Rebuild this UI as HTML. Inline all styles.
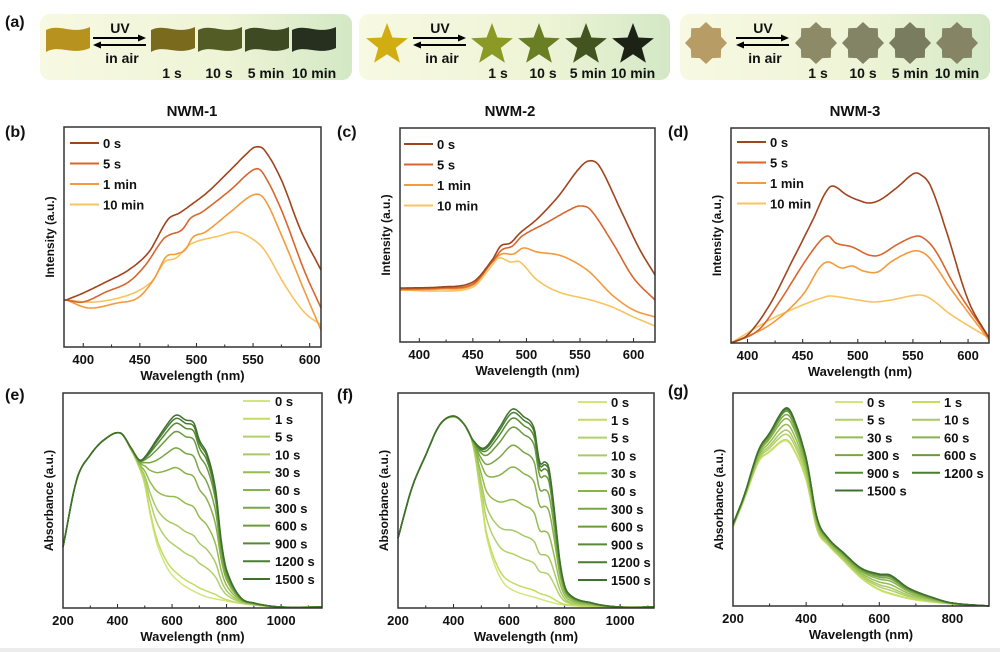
<!DOCTYPE html>
<html><head><meta charset="utf-8"><style>
html,body{margin:0;padding:0;background:#fff}
svg{display:block}
text{font-family:"Liberation Sans",Arial,sans-serif;font-weight:bold;fill:#111}
</style></head><body>
<svg id="s" width="1000" height="652" viewBox="0 0 1000 652" xmlns="http://www.w3.org/2000/svg">
<defs>
<linearGradient id="bg" x1="0" x2="1" y1="0" y2="0"><stop offset="0" stop-color="#f7f9e2"/><stop offset="0.6" stop-color="#eef4d6"/><stop offset="1" stop-color="#d3e8c6"/></linearGradient>
</defs>
<rect x="0" y="648" width="1000" height="4" fill="#ececec"/>
<g id="g"></g>
</svg>
<script>
const NS="http://www.w3.org/2000/svg",G=document.getElementById('g');
function el(t,a,txt){const e=document.createElementNS(NS,t);for(const k in a)e.setAttribute(k,a[k]);if(txt!=null)e.textContent=txt;G.appendChild(e);return e;}
function T(x,y,s,size,anchor,extra){const a={x:x,y:y,'font-size':size||13};if(anchor)a['text-anchor']=anchor;if(extra)Object.assign(a,extra);return el('text',a,s);}
[[40,352],[359,670],[680,990]].forEach(b=>el('rect',{x:b[0],y:14,width:b[1]-b[0],height:66,rx:10,fill:'url(#bg)'}));
T(5,27,'(a)',16);
function wave(x,y,w,h,c){const d=`M${x},${y+3} C${x+w*0.3},${y-4} ${x+w*0.6},${y+8} ${x+w},${y} L${x+w},${y+h-4} C${x+w*0.6},${y+h+4} ${x+w*0.3},${y+h-8} ${x},${y+h} Z`;el('path',{d:d,fill:c});}
function star(cx,cy,r,c){let p=[];for(let i=0;i<10;i++){const a=-Math.PI/2+i*Math.PI/5,rr=i%2?r*0.42:r;p.push((cx+rr*Math.cos(a)).toFixed(1)+','+(cy+rr*Math.sin(a)).toFixed(1));}el('polygon',{points:p.join(' '),fill:c});}
function oct(cx,cy,r,c){let p=[];for(let i=0;i<16;i++){const a=-Math.PI/2+i*Math.PI/8,rr=i%2?r*0.78:r;p.push((cx+rr*Math.cos(a)).toFixed(1)+','+(cy+rr*Math.sin(a)).toFixed(1));}el('polygon',{points:p.join(' '),fill:c});}
function arrows(x){el('line',{x1:x,y1:38,x2:x+48,y2:38,stroke:'#000','stroke-width':2});el('polygon',{points:`${x+53},38 ${x+45},34.5 ${x+45},41.5`});
el('line',{x1:x+5,y1:45,x2:x+53,y2:45,stroke:'#000','stroke-width':2});el('polygon',{points:`${x},45 ${x+8},41.5 ${x+8},48.5`});
T(x+27,33,'UV',14,'middle');T(x+29,63,'in air',14,'middle');}
wave(46,27,44,25,'#b8921f');arrows(93);
[['#7a6a1e',151],['#545c25',198],['#3d4a22',245],['#27301e',292]].forEach(v=>wave(v[1],27,44,25,v[0]));
T(172,78,'1 s',14,'middle');T(219,78,'10 s',14,'middle');T(266,78,'5 min',14,'middle');T(314,78,'10 min',14,'middle');
star(387,45,22,'#d2ad12');arrows(413);
[['#8a9a25',492],['#6a7e24',539],['#445420',586],['#1c2216',633]].forEach(v=>star(v[1],45,22,v[0]));
T(498,78,'1 s',14,'middle');T(543,78,'10 s',14,'middle');T(588,78,'5 min',14,'middle');T(633,78,'10 min',14,'middle');
oct(706,43,21,'#b89c66');arrows(736);
[['#8d8a68',816],['#838466',863],['#7a7c60',910],['#858566',957]].forEach(v=>oct(v[1],43,21,v[0]));
T(818,78,'1 s',14,'middle');T(863,78,'10 s',14,'middle');T(910,78,'5 min',14,'middle');T(957,78,'10 min',14,'middle');
T(192,116,'NWM-1',15,'middle');T(510,116,'NWM-2',15,'middle');T(855,116,'NWM-3',15,'middle');
function interp(pts,x){if(x<=pts[0][0])return pts[0][1];for(let i=1;i<pts.length;i++){if(x<=pts[i][0]){const p0=pts[Math.max(i-2,0)],p1=pts[i-1],p2=pts[i],p3=pts[Math.min(i+1,pts.length-1)];const t=(x-p1[0])/(p2[0]-p1[0]);
const m1=(p2[1]-p0[1])/(p2[0]-p0[0]||1)*(p2[0]-p1[0]),m2=(p3[1]-p1[1])/(p3[0]-p1[0]||1)*(p2[0]-p1[0]);const t2=t*t,t3=t2*t;
return (2*t3-3*t2+1)*p1[1]+(t3-2*t2+t)*m1+(-2*t3+3*t2)*p2[1]+(t3-t2)*m2;}}return pts[pts.length-1][1];}
function curve(f,x0,x1,sx,col,w){let d='';const n=200;for(let i=0;i<=n;i++){const l=x0+(x1-x0)*i/n;d+=(i?'L':'M')+sx(l).toFixed(1)+','+f(l).toFixed(1);}el('path',{d:d,fill:'none',stroke:col,'stroke-width':w||1.6});}
function axes(bx,by,bw,bh,lo,hi,ticks,minor,ylab){
 const sx=l=>bx+(l-lo)/(hi-lo)*bw;
 ticks.forEach(t=>{const x=sx(t);el('line',{x1:x,y1:by+bh,x2:x,y2:by+bh-4,stroke:'#222','stroke-width':1});T(x,by+bh+17,String(t),13,'middle');});
 minor.forEach(t=>{const x=sx(t);el('line',{x1:x,y1:by+bh,x2:x,y2:by+bh-2.5,stroke:'#222','stroke-width':1});});
 T(bx+bw/2,by+bh+33,'Wavelength (nm)',13,'middle');
 const yc=by+bh/2;T(0,0,ylab,12,'middle',{transform:`translate(${bx-10},${yc}) rotate(-90)`});
 return sx;}
function box(bx,by,bw,bh){el('rect',{x:bx,y:by,width:bw,height:bh,fill:'none',stroke:'#333','stroke-width':1.5});}
const BR=['#a0441c','#d8662c','#f39a3e','#f8c45e'],BRL=['0 s','5 s','1 min','10 min'];
function pl(bx,by,bw,bh,lo,hi,data,lx,ly,lab){
 const sx=axes(bx,by,bw,bh,lo,hi,[400,450,500,550,600],[425,475,525,575],'Intensity (a.u.)');
 for(let i=3;i>=0;i--)curve(l=>interp(data[i],l),lo,hi,sx,BR[i],1.6);
 BRL.forEach((s,i)=>{el('line',{x1:lx,y1:ly+i*20.5-4,x2:lx+29,y2:ly+i*20.5-4,stroke:BR[i],'stroke-width':2});T(lx+33,ly+i*20.5+1,s,13);});
 box(bx,by,bw,bh);T(lab[1],lab[2],lab[0],16);}
pl(64,127,257,220,383,610,[
[[385,300],[400,293],[420,282],[440,270],[458,252],[470,228],[476,218],[485,213],[495,205],[510,192],[530,170],[545,153],[552,147],[560,150],[575,180],[592,230],[610,270]],
[[385,300],[400,302],[420,292],[440,282],[455,265],[470,240],[476,235],[487,230],[495,218],[505,212],[530,190],[550,170],[558,172],[575,210],[595,270],[610,308]],
[[385,300],[405,308],[430,303],[448,298],[462,280],[473,257],[482,254],[490,250],[497,237],[508,232],[530,212],[550,195],[560,199],[575,235],[595,290],[610,330]],
[[385,300],[410,302],[440,295],[460,282],[472,262],[482,258],[495,244],[520,236],[535,232],[548,238],[560,250],[578,285],[595,312],[610,325]]],
70,147,['(b)',5,137]);
pl(400,128,255,214,382,620,[
[[385,288],[420,287],[450,282],[468,260],[476,246],[485,243],[494,233],[510,219],[530,196],[548,170],[558,161],[568,166],[588,210],[605,248],[620,275]],
[[385,289],[420,288],[450,284],[468,262],[477,250],[487,246],[496,236],[520,222],[540,210],[550,206],[560,210],[580,242],[600,278],[620,300]],
[[385,290],[420,289],[450,285],[468,262],[477,254],[488,254],[497,248],[510,252],[530,255],[545,262],[560,273],[580,295],[600,310],[620,317]],
[[385,290],[420,291],[450,287],[466,268],[474,258],[485,262],[494,262],[510,280],[530,292],[560,300],[580,307],[600,317],[620,326]]],
404,148,['(c)',337,137]);
pl(731,128,258,215,385,619,[
[[385,343],[400,335],[420,305],[440,262],[460,218],[470,194],[477,186],[490,195],[500,200],[510,203],[520,200],[535,188],[550,174],[556,174],[566,186],[580,230],[600,300],[619,338]],
[[385,343],[410,330],[430,300],[450,265],[465,242],[473,236],[480,243],[495,247],[510,255],[520,255],[535,245],[550,237],[558,237],[570,250],[590,290],[619,338]],
[[385,343],[420,325],[450,295],[465,268],[473,262],[485,268],[495,266],[505,271],[518,272],[530,262],[545,253],[555,251],[565,258],[585,290],[619,340]],
[[385,343],[420,320],[450,305],[470,297],[476,296],[500,300],[515,302],[530,300],[555,295],[565,298],[585,315],[619,338]]],
737,146,['(d)',668,137]);
const GL=['#d2e67e','#c3dc62','#b2d06a','#a8ca66','#94bd4c','#88b24a','#78a646','#6a9a3e','#558a34','#4a7d30','#3f7030'];
const GT=['0 s','1 s','5 s','10 s','30 s','60 s','300 s','600 s','900 s','1200 s','1500 s'];
const FR=[0,0.04,0.2,0.33,0.5,0.68,0.8,0.9,0.95,0.98,1];
function ab(bx,by,bw,bh,lo,hi,ticks,minor,c0,c1,lab,legend){
 const sx=axes(bx,by,bw,bh,lo,hi,ticks,minor,'Absorbance (a.u.)');
 for(let i=0;i<11;i++){const t=FR[i];curve(l=>interp(c0,l)*(1-t)+interp(c1,l)*t,lo,hi,sx,GL[i],1.5);}
 legend();box(bx,by,bw,bh);T(lab[1],lab[2],lab[0],16);}
ab(63,393,259,215,200,1150,[200,400,600,800,1000],[300,500,700,900,1100],
[[200,547],[250,480],[300,455],[350,440],[410,433],[450,450],[480,468],[500,485],[520,515],[550,548],[600,575],[700,594],[800,601],[900,605],[1000,607],[1150,607]],
[[200,547],[250,480],[300,455],[350,440],[410,433],[450,448],[480,460],[500,457],[550,437],[600,418],[620,415],[650,420],[680,423],[700,440],[730,455],[760,490],[780,540],[800,570],[850,597],[900,603],[1000,607],[1150,607]],
['(e)',5,400],()=>GT.forEach((s,i)=>{const y=405+i*17.8;el('line',{x1:243,y1:y-4,x2:270,y2:y-4,stroke:GL[i],'stroke-width':2});T(275,y+1,s,13);}));
ab(398,393,256,215,200,1122,[200,400,600,800,1000],[300,500,700,900,1100],
[[200,538],[250,488],[300,455],[350,425],[400,417],[440,425],[470,445],[500,500],[520,538],[560,573],[600,588],[700,598],[800,605],[1000,607],[1122,607]],
[[200,538],[250,488],[300,455],[350,425],[400,416],[440,425],[470,440],[510,448],[560,430],[600,412],[620,409],[650,416],[690,428],[710,462],[730,462],[745,470],[765,515],[785,565],[810,592],[900,603],[1000,607],[1122,607]],
['(f)',337,400],()=>GT.forEach((s,i)=>{const y=406+i*17.8;el('line',{x1:578,y1:y-4,x2:607,y2:y-4,stroke:GL[i],'stroke-width':2});T(611,y+1,s,13);}));
ab(733,393,256,213,200,900,[200,400,600,800],[300,500,700],
[[200,527],[230,500],[270,462],[300,452],[340,441],[360,446],[400,480],[430,530],[460,545],[500,560],[550,578],[600,590],[650,596],[700,600],[800,604],[900,606]],
[[200,524],[230,496],[270,450],[300,433],[340,409],[360,413],[400,458],[430,518],[460,538],[500,552],[550,568],[600,574],[630,575],[680,588],[750,598],[800,603],[900,606]],
['(g)',668,396],()=>GT.forEach((s,i)=>{const col=i%2,row=Math.floor(i/2),x=col?912:835,y=406+row*17.7;el('line',{x1:x,y1:y-4,x2:x+28,y2:y-4,stroke:GL[i],'stroke-width':2});T(x+32,y+1,s,13);}));
</script>
</body></html>
